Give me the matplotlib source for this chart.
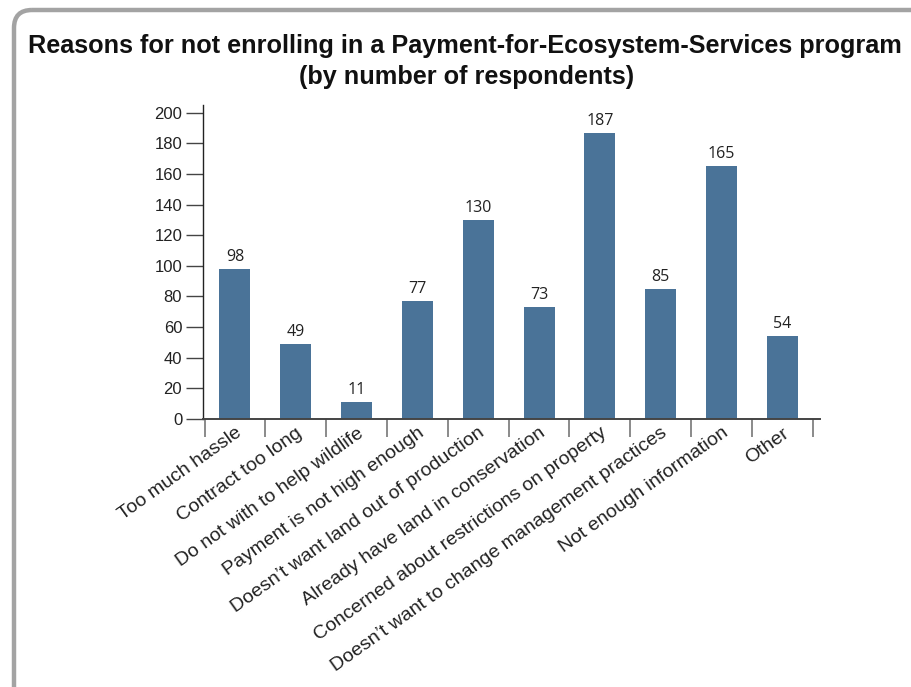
import matplotlib
matplotlib.use("Agg")
import matplotlib.pyplot as plt
from matplotlib.patches import FancyBboxPatch
import numpy as np

plt.rcParams['font.family'] = ['Liberation Sans', 'DejaVu Sans']

reasons = [
    "Too much hassle",
    "Contract too long",
    "Do not with to help wildlife",
    "Payment is not high enough",
    "Doesn\u2019t want land out of production",
    "Already have land in conservation",
    "Concerned about restrictions on property",
    "Doesn\u2019t want to change management practices",
    "Not enough information",
    "Other",
]
respondents = [98, 49, 11, 77, 130, 73, 187, 85, 165, 54]
y_ticks = [0, 20, 40, 60, 80, 100, 120, 140, 160, 180, 200]

W, H = 911, 687
fig = plt.figure(figsize=(W / 100, H / 100), dpi=100)

# Grey rounded frame in pixel coordinates
bg = fig.add_axes([0, 0, 1, 1], zorder=0)
bg.set_xlim(0, W)
bg.set_ylim(H, 0)
bg.axis("off")
bg.add_patch(FancyBboxPatch((14, 10), 1000, 800,
                            boxstyle="round,pad=0,rounding_size=18",
                            fill=False, edgecolor="#a3a3a3", linewidth=3.2))

fig.text(465 / W, 1 - 46 / H,
         "Reasons for not enrolling in a Payment-for-Ecosystem-Services program",
         ha="center", va="center", fontsize=18.2, fontweight="bold", color="#111111")
fig.text(467 / W, 1 - 77 / H, "(by number of respondents)",
         ha="center", va="center", fontsize=18.2, fontweight="bold", color="#111111")

left, right, bottom, top = 203, 820, 419, 105
ax = fig.add_axes([left / W, 1 - bottom / H, (right - left) / W, (bottom - top) / H], zorder=1)

x = np.arange(len(reasons))
bars = ax.bar(x, respondents, width=0.51, color="#4a7398", zorder=2)
for xi, v in zip(x, respondents):
    ax.text(xi, v + 2.5, str(v), ha="center", va="bottom", fontsize=11.5,
            family=["Open Sans", "DejaVu Sans"], color="#222222")

ax.set_xlim(-0.525, 9.62)
ax.set_ylim(0, 205)
ax.set_yticks(y_ticks)
ax.tick_params(axis="y", length=12, width=1, color="#444444", labelsize=12,
               labelcolor="#222222", pad=3)

ax.set_xticks(np.arange(-0.5, 10, 1.0))
ax.set_xticklabels([])
ax.tick_params(axis="x", length=13, width=1.2, color="#777777")
ax.set_xticks(x, minor=True)
ax.set_xticklabels(reasons, minor=True, rotation=35.5, ha="right",
                   rotation_mode="anchor", fontsize=14, color="#222222")
ax.tick_params(axis="x", which="minor", length=0, pad=4)

for s in ("top", "right"):
    ax.spines[s].set_visible(False)
ax.spines["left"].set_color("#222222")
ax.spines["bottom"].set_color("#444444")
ax.spines["left"].set_linewidth(1.0)
ax.spines["bottom"].set_linewidth(1.4)

fig.savefig("out.png", dpi=100)
